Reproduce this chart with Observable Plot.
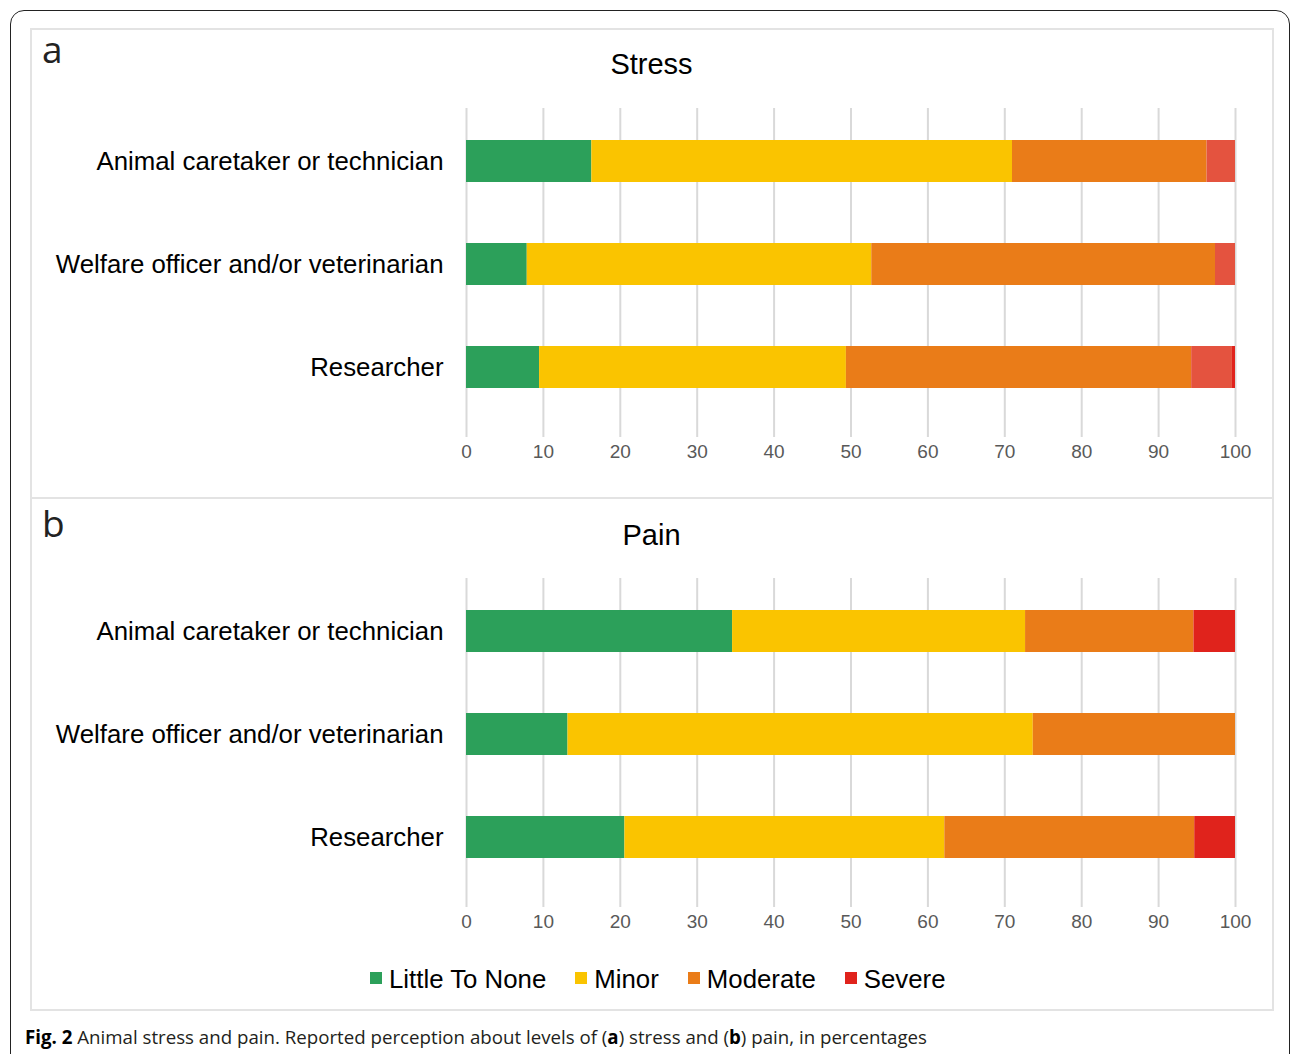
<!DOCTYPE html>
<html>
<head>
<meta charset="utf-8">
<script src="https://cdn.jsdelivr.net/npm/d3@7"></script>
<script src="https://cdn.jsdelivr.net/npm/@observablehq/plot@0.6"></script>
<style>
  html, body { margin: 0; padding: 0; background: #fff; }
  #root { position: relative; width: 1293px; height: 1054px; overflow: hidden; background: #fff; }
  .abs { position: absolute; white-space: nowrap; }
  .outer { position: absolute; left: 10px; top: 10px; width: 1280px; height: 1100px; border: 1.5px solid #222; border-radius: 14px; box-sizing: border-box; }
  .inner { position: absolute; left: 30px; top: 28px; width: 1244px; height: 983px; border: 2px solid #e3e3e3; box-sizing: border-box; }
  .divider { position: absolute; left: 30px; top: 497px; width: 1244px; height: 2px; background: #e3e3e3; }
  .panel-letter { font-family: "Open Sans", sans-serif; font-size: 37px; line-height: 1; color: #222; }
  .title { font-family: "Liberation Sans", Arial, sans-serif; font-size: 29px; line-height: 1; color: #000; text-align: center; width: 1243px; left: 30px; }
  .legend { font-family: "Liberation Sans", Arial, sans-serif; font-size: 25.8px; line-height: 1; color: #000; display: flex; align-items: center; }
  .legend .item { display: flex; align-items: center; margin-right: 29px; }
  .legend .sw { width: 12px; height: 12px; margin-right: 7px; margin-top: -4px; }
  .caption { font-family: "Open Sans", sans-serif; font-size: 18.7px; line-height: 1; color: #231f20; }
</style>
</head>
<body>
<div id="root">
  <div class="outer"></div>
  <div class="inner"></div>
  <div class="divider"></div>
  <div class="abs panel-letter" style="left:42px; top:30px;">a</div>
  <div class="abs panel-letter" style="left:42px; top:504px;">b</div>
  <div class="abs title" style="top:50px;">Stress</div>
  <div class="abs title" style="top:521px;">Pain</div>
  <div id="plotA" class="abs" style="left:30px; top:98px;"></div>
  <div id="plotB" class="abs" style="left:30px; top:568px;"></div>
  <div id="legend" class="abs legend" style="left:370px; top:967px;"></div>
  <div class="abs caption" style="left:25px; top:1028px;"><b style="color:#000">Fig. 2</b> Animal stress and pain. Reported perception about levels of (<b style="color:#000">a</b>) stress and (<b style="color:#000">b</b>) pain, in percentages</div>
</div>
<script>
// ---- data ----
const roles = ["Animal caretaker or technician", "Welfare officer and/or veterinarian", "Researcher"];
const levels = ["Little To None", "Minor", "Moderate", "Severe"];
const levelColors = ["#2ca05a", "#fac400", "#ea7c18", "#e0231c"];
const xTicks = [0, 10, 20, 30, 40, 50, 60, 70, 80, 90, 100];

// Stress (%), per role in order of `roles`
const stressLittle = [16.3, 7.9, 9.5];
const stressMinor = [54.7, 44.8, 39.9];
const stressModerate = [25.3, 44.7, 44.9];
const stressSevere = [3.7, 2.6, 5.3];
const stressSevereDark = [0, 0, 0.4];
const stressSevereColor = "#e4533f";

// Pain (%)
const painLittle = [34.6, 13.2, 20.6];
const painMinor = [38.1, 60.5, 41.6];
const painModerate = [21.9, 26.3, 32.5];
const painSevere = [5.4, 0, 5.3];

// ---- build tables ----
function table(seriesList) {
  const rows = [];
  seriesList.forEach(([name, vals]) => {
    roles.forEach((r, i) => rows.push({role: r, level: name, value: vals[i]}));
  });
  return rows;
}

const stressRows = table([
  ["Little To None", stressLittle],
  ["Minor", stressMinor],
  ["Moderate", stressModerate],
  ["Severe", stressSevere],
  ["Severe+", stressSevereDark]
]);
const painRows = table([
  ["Little To None", painLittle],
  ["Minor", painMinor],
  ["Moderate", painModerate],
  ["Severe", painSevere]
]);

function panel(rows, colorDomain, colorRange) {
  return Plot.plot({
    width: 1243,
    height: 369,
    marginLeft: 436,
    marginRight: 38,
    marginTop: 10,
    marginBottom: 30,
    style: {fontFamily: "'Liberation Sans', Arial, sans-serif", background: "transparent"},
    x: {domain: [0, 100], axis: null},
    y: {domain: roles, paddingInner: 0.596, paddingOuter: 0.38, align: 0.39, axis: null},
    color: {domain: colorDomain, range: colorRange},
    marks: [
      Plot.ruleX(xTicks, {stroke: "#d9d9d9", strokeWidth: 2}),
      Plot.barX(rows, {x: "value", y: "role", fill: "level", order: colorDomain}),
      Plot.axisX(xTicks, {tickSize: 0, tickPadding: 7, fontSize: 19, fill: "#595959", tickFormat: d => String(d), label: null}),
      Plot.axisY({tickSize: 0, tickPadding: 23, fontSize: 25.8, fill: "#000", label: null})
    ]
  });
}

document.getElementById("plotA").appendChild(
  panel(stressRows,
    ["Little To None", "Minor", "Moderate", "Severe", "Severe+"],
    ["#2ca05a", "#fac400", "#ea7c18", stressSevereColor, "#e0231c"])
);
document.getElementById("plotB").appendChild(
  panel(painRows, levels, levelColors)
);

// legend
const lg = document.getElementById("legend");
levels.forEach((l, i) => {
  const it = document.createElement("div");
  it.className = "item";
  const sw = document.createElement("div");
  sw.className = "sw";
  sw.style.background = levelColors[i];
  const tx = document.createElement("span");
  tx.textContent = l;
  it.appendChild(sw); it.appendChild(tx);
  lg.appendChild(it);
});
</script>
</body>
</html>
